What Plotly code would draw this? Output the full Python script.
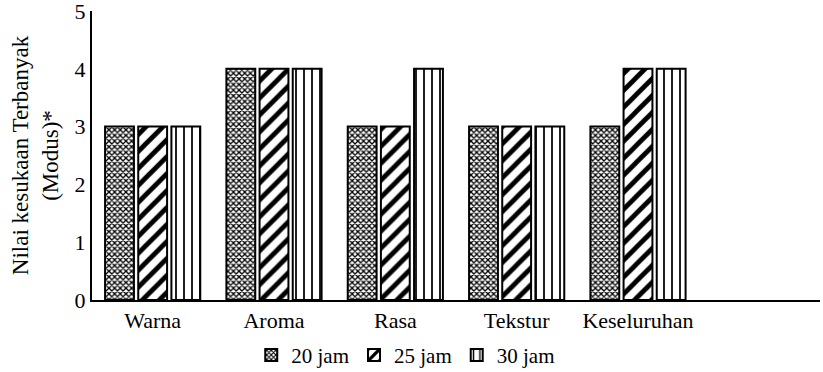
import plotly.graph_objects as go

categories = ["Warna", "Aroma", "Rasa", "Tekstur", "Keseluruhan"]
series_names = ["20 jam", "25 jam", "30 jam"]
values_20 = [3, 4, 3, 3, 3]
values_25 = [3, 4, 3, 3, 4]
values_30 = [3, 4, 4, 3, 4]
y_ticks = [0, 1, 2, 3, 4, 5]

FONT = "Liberation Serif, Times New Roman, serif"
patterns = [
    dict(shape="x", size=4, solidity=0.55, fgcolor="black", bgcolor="white", fillmode="replace"),
    dict(shape="/", size=12, solidity=0.4, fgcolor="black", bgcolor="white", fillmode="replace"),
    dict(shape="|", size=8, solidity=0.22, fgcolor="black", bgcolor="white", fillmode="replace"),
]

fig = go.Figure()
for name, vals, pat in zip(series_names, [values_20, values_25, values_30], patterns):
    fig.add_trace(go.Bar(
        x=categories, y=vals, name=name,
        marker=dict(color="white", line=dict(color="black", width=2), pattern=pat),
    ))

fig.update_layout(
    width=823, height=372,
    margin=dict(l=92, r=3, t=11, b=72, autoexpand=False),
    paper_bgcolor="white", plot_bgcolor="white",
    barmode="group", bargap=0.18, bargroupgap=0.13,
    font=dict(family=FONT, size=22, color="black"),
    showlegend=True,
    legend=dict(orientation="h", x=0.493, xanchor="center", xref="container",
                y=0.045, yanchor="middle", yref="container",
                font=dict(size=21), itemwidth=30, traceorder="normal", tracegroupgap=0,
                bgcolor="rgba(0,0,0,0)"),
    xaxis=dict(range=[-0.5, 5.5], showline=True, linecolor="black", linewidth=2,
               ticks="", showgrid=False, tickfont=dict(size=22), automargin=False),
    yaxis=dict(range=[0, 5], tickvals=y_ticks, showline=True, linecolor="black", linewidth=2,
               ticks="", showgrid=False, zeroline=False, tickfont=dict(size=22), automargin=False,
               ticklabeloverflow="allow",
               title=dict(text="Nilai kesukaan Terbanyak<br>(Modus)*", font=dict(size=23), standoff=10)),
)

fig.write_html("out.html")
